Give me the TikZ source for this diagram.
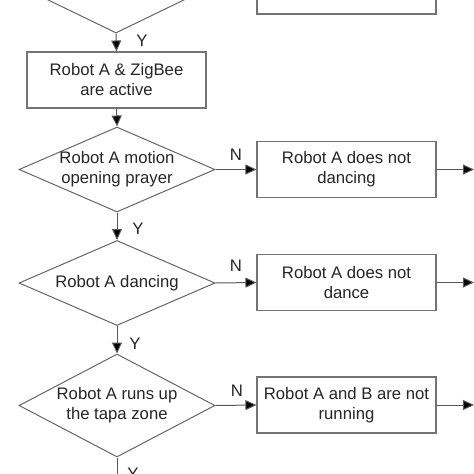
\documentclass[tikz,border=0pt]{standalone}
\usepackage{fontspec}
\setmainfont{Liberation Sans}
\usetikzlibrary{shapes.geometric,arrows.meta}
\begin{document}
\begin{tikzpicture}[x=1pt,y=-1pt,
  every node/.style={font=\fontsize{16.7}{20}\selectfont, text=black!85},
  procbox/.style={draw=black!55, line width=1.1pt, minimum width=179pt, minimum height=56pt, inner sep=0pt, align=center},
  decis/.style={diamond, draw=black!60, line width=1pt, minimum width=196pt, minimum height=85pt, inner sep=0pt},
  flow/.style={draw=black!65, line width=1pt, -{Triangle[length=11pt,width=10pt,fill=black]}},
  plain/.style={draw=black!65, line width=1pt},
  yn/.style={inner sep=0pt}
]
\useasboundingbox (0,0) rectangle (474,474);
\clip (0,0) rectangle (474,474);
\fill[white] (0,0) rectangle (474,474);

\node[decis, minimum height=95pt] (d1) at (116,-14.5) {};
\node[procbox] (r1) at (346.5,-14) {};
\node[procbox] (b1) at (116.5,80) {Robot A \& ZigBee\\are active};
\node[decis, label={[align=center]center:Robot A motion\\opening prayer}] (d2) at (117,169.5) {};
\node[procbox] (r2) at (346.5,169.5) {Robot A does not\\dancing};
\node[decis, label={center:Robot A dancing}] (d3) at (117,283) {};
\node[procbox] (r3) at (346.5,282.5) {Robot A does not\\dance};
\node[decis, minimum height=103pt, label={[align=center]center:Robot A runs up\\the tapa zone}] (d4) at (117,405.5) {};
\node[procbox] (r4) at (346.5,405) {Robot A and B are not\\running};

\coordinate (o2) at (474,169.5);
\coordinate (o3) at (474,282.5);
\coordinate (o4) at (474,405);
\coordinate (e4) at (117,480);

\draw[flow] (d1.south) -- (b1.north);
\draw[flow] (b1.south) -- (d2.north);
\draw[flow] (d2.east) -- (r2.west);
\draw[flow] (r2.east) -- (o2);
\draw[flow] (d2.south) -- (d3.north);
\draw[flow] (d3.east) -- (r3.west);
\draw[flow] (r3.east) -- (o3);
\draw[flow] (d3.south) -- (d4.north);
\draw[flow] (d4.east) -- (r4.west);
\draw[flow] (r4.east) -- (o4);
\draw[plain] (d4.south) -- (e4);

\node[yn] (y1) at (142,41) {Y};
\node[yn] (n2) at (236,155) {N};
\node[yn] (y2) at (138,229) {Y};
\node[yn] (n3) at (236,266) {N};
\node[yn] (y3) at (135,344) {Y};
\node[yn] (n4) at (237,391) {N};
\node[yn] (y4) at (133,474) {Y};
\end{tikzpicture}
\end{document}
